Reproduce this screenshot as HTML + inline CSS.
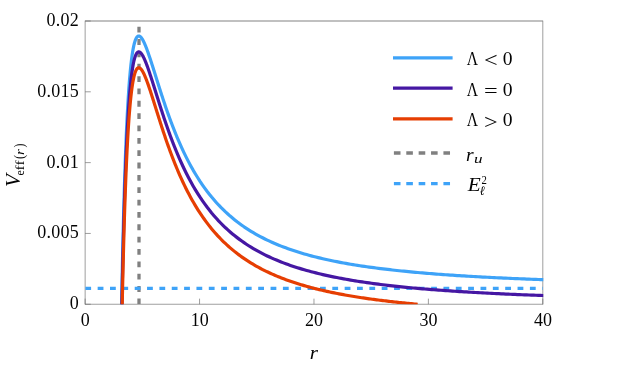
<!DOCTYPE html>
<html><head><meta charset="utf-8"><title>V_eff</title>
<style>
html,body{margin:0;padding:0;background:#fff;}
body{width:628px;height:373px;overflow:hidden;font-family:"Liberation Serif",serif;}
svg{display:block;}
text{font-family:"Liberation Serif",serif;fill:#000;}
</style></head><body>
<svg width="628" height="373" viewBox="0 0 628 373">
<rect x="0" y="0" width="628" height="373" fill="#ffffff"/>
<defs><clipPath id="c"><rect x="85.15" y="21.0" width="458.09999999999997" height="283.25"/></clipPath></defs>
<path d="M85.15 20.7 V304.55 M542.8 20.7 V304.55 M85.15 304.25 H542.8" fill="none" stroke="#6a6a6a" stroke-width="0.65"/><path d="M85.15 21.0 H542.8" fill="none" stroke="#6a6a6a" stroke-width="0.85"/>
<path d="M85.15 304.25 v-5.60 M199.56 304.25 v-5.60 M313.98 304.25 v-5.60 M428.39 304.25 v-5.60 M542.80 304.25 v-5.60 M85.15 304.25 h5.60 M85.15 233.44 h5.60 M85.15 162.62 h5.60 M85.15 91.81 h5.60 M85.15 21.00 h5.60" fill="none" stroke="#6a6a6a" stroke-width="0.65"/>
<g clip-path="url(#c)" fill="none">
<path d="M139.0 304.25 V21.0" stroke="#808080" stroke-width="3.3" stroke-dasharray="5.8 6.55"/>
<path d="M85.3 288.45 H542.8" stroke="#3EA3F8" stroke-width="3.3" stroke-dasharray="5.8 6.55"/>
<path d="M119.71 422.30 L119.97 403.49 L120.23 385.52 L120.50 368.37 L120.76 351.98 L121.02 336.33 L121.28 321.37 L121.54 307.09 L121.80 293.45 L122.06 280.42 L122.32 267.97 L122.58 256.08 L122.85 244.72 L123.11 233.88 L123.37 223.52 L123.63 213.63 L123.89 204.19 L124.15 195.17 L124.41 186.56 L124.67 178.35 L124.94 170.51 L125.20 163.02 L125.46 155.89 L125.72 149.08 L125.98 142.58 L126.24 136.39 L126.50 130.49 L126.76 124.87 L127.02 119.51 L127.29 114.41 L127.55 109.55 L127.81 104.93 L128.07 100.53 L128.33 96.35 L128.59 92.37 L128.85 88.60 L129.11 85.01 L129.37 81.61 L129.64 78.38 L129.90 75.32 L130.16 72.42 L130.42 69.68 L130.68 67.08 L130.94 64.63 L131.20 62.32 L131.46 60.14 L131.72 58.08 L131.99 56.15 L132.25 54.33 L132.51 52.63 L132.77 51.03 L133.03 49.53 L133.29 48.14 L133.55 46.84 L133.81 45.63 L134.07 44.51 L134.34 43.48 L134.60 42.52 L134.86 41.64 L135.12 40.84 L135.38 40.11 L135.64 39.45 L135.90 38.86 L136.16 38.33 L136.42 37.86 L136.69 37.44 L136.95 37.09 L137.21 36.79 L137.47 36.54 L137.73 36.34 L137.99 36.19 L138.25 36.09 L138.51 36.03 L138.77 36.01 L139.04 36.03 L139.30 36.09 L139.56 36.19 L139.82 36.33 L140.08 36.50 L140.34 36.70 L140.60 36.93 L140.86 37.20 L141.13 37.49 L141.39 37.82 L141.65 38.16 L141.91 38.54 L142.17 38.94 L142.43 39.36 L142.69 39.80 L142.95 40.27 L143.21 40.76 L143.48 41.26 L143.74 41.79 L144.00 42.33 L144.26 42.89 L144.52 43.47 L144.78 44.06 L145.04 44.67 L145.30 45.29 L145.56 45.93 L145.83 46.58 L146.09 47.24 L146.35 47.91 L146.61 48.60 L146.87 49.29 L147.13 49.99 L147.39 50.71 L147.65 51.43 L147.91 52.16 L148.18 52.90 L148.44 53.65 L148.70 54.41 L148.96 55.17 L149.22 55.93 L149.48 56.71 L149.74 57.49 L150.00 58.27 L150.26 59.06 L150.53 59.86 L150.79 60.66 L151.05 61.46 L151.31 62.27 L151.57 63.08 L151.83 63.89 L152.09 64.70 L152.35 65.52 L152.61 66.34 L152.88 67.17 L153.14 67.99 L153.40 68.82 L153.66 69.65 L153.92 70.48 L154.18 71.31 L154.44 72.14 L154.70 72.97 L154.97 73.80 L155.23 74.64 L155.49 75.47 L155.75 76.30 L156.01 77.13 L156.27 77.97 L156.53 78.80 L156.79 79.63 L157.05 80.46 L157.32 81.29 L157.58 82.12 L157.84 82.95 L158.10 83.78 L158.36 84.60 L158.62 85.43 L158.88 86.25 L159.14 87.07 L159.40 87.90 L159.67 88.71 L159.93 89.53 L160.19 90.35 L160.45 91.16 L160.71 91.97 L160.97 92.78 L161.23 93.59 L161.49 94.39 L161.75 95.19 L162.02 95.99 L162.28 96.79 L162.54 97.58 L162.80 98.38 L163.06 99.17 L163.32 99.96 L163.58 100.74 L163.84 101.52 L164.10 102.30 L164.37 103.08 L164.63 103.85 L164.89 104.62 L165.15 105.39 L165.41 106.16 L165.67 106.92 L165.93 107.68 L166.19 108.44 L166.45 109.19 L166.72 109.94 L166.98 110.69 L167.24 111.44 L167.50 112.18 L167.76 112.92 L168.02 113.65 L168.28 114.38 L168.54 115.11 L168.80 115.84 L169.07 116.56 L169.33 117.28 L169.59 118.00 L169.85 118.71 L170.11 119.42 L170.37 120.13 L170.63 120.84 L170.89 121.54 L171.16 122.23 L171.42 122.93 L171.68 123.62 L171.94 124.31 L172.20 124.99 L172.46 125.68 L172.72 126.35 L172.98 127.03 L173.24 127.70 L173.51 128.37 L173.77 129.04 L174.03 129.70 L174.29 130.36 L174.55 131.01 L174.81 131.67 L175.07 132.32 L175.33 132.96 L175.59 133.61 L175.86 134.25 L176.12 134.88 L176.38 135.52 L176.64 136.15 L176.90 136.78 L179.22 142.21 L181.53 147.40 L183.85 152.36 L186.17 157.10 L188.48 161.62 L190.80 165.94 L193.11 170.07 L195.43 174.00 L197.75 177.76 L200.06 181.35 L202.38 184.78 L204.70 188.06 L207.01 191.20 L209.33 194.20 L211.64 197.07 L213.96 199.81 L216.28 202.44 L218.59 204.96 L220.91 207.38 L223.23 209.69 L225.54 211.91 L227.86 214.04 L230.17 216.09 L232.49 218.05 L234.81 219.94 L237.12 221.76 L239.44 223.50 L241.76 225.18 L244.07 226.80 L246.39 228.35 L248.70 229.85 L251.02 231.30 L253.34 232.69 L255.65 234.03 L257.97 235.33 L260.29 236.58 L262.60 237.79 L264.92 238.96 L267.23 240.08 L269.55 241.17 L271.87 242.22 L274.18 243.24 L276.50 244.23 L278.82 245.18 L281.13 246.11 L283.45 247.00 L285.76 247.87 L288.08 248.71 L290.40 249.52 L292.71 250.31 L295.03 251.07 L297.35 251.82 L299.66 252.54 L301.98 253.24 L304.30 253.92 L306.61 254.58 L308.93 255.22 L311.24 255.84 L313.56 256.45 L315.88 257.04 L318.19 257.61 L320.51 258.17 L322.83 258.71 L325.14 259.24 L327.46 259.75 L329.77 260.25 L332.09 260.74 L334.41 261.21 L336.72 261.67 L339.04 262.12 L341.36 262.56 L343.67 262.99 L345.99 263.41 L348.30 263.82 L350.62 264.21 L352.94 264.60 L355.25 264.98 L357.57 265.35 L359.89 265.71 L362.20 266.06 L364.52 266.41 L366.83 266.74 L369.15 267.07 L371.47 267.39 L373.78 267.70 L376.10 268.01 L378.42 268.31 L380.73 268.60 L383.05 268.89 L385.36 269.17 L387.68 269.44 L390.00 269.71 L392.31 269.97 L394.63 270.23 L396.95 270.48 L399.26 270.73 L401.58 270.97 L403.89 271.21 L406.21 271.44 L408.53 271.66 L410.84 271.89 L413.16 272.10 L415.48 272.32 L417.79 272.53 L420.11 272.73 L422.43 272.93 L424.74 273.13 L427.06 273.32 L429.37 273.51 L431.69 273.70 L434.01 273.88 L436.32 274.06 L438.64 274.23 L440.96 274.41 L443.27 274.57 L445.59 274.74 L447.90 274.90 L450.22 275.06 L452.54 275.22 L454.85 275.37 L457.17 275.53 L459.49 275.67 L461.80 275.82 L464.12 275.96 L466.43 276.10 L468.75 276.24 L471.07 276.38 L473.38 276.51 L475.70 276.64 L478.02 276.77 L480.33 276.90 L482.65 277.03 L484.96 277.15 L487.28 277.27 L489.60 277.39 L491.91 277.51 L494.23 277.62 L496.55 277.73 L498.86 277.84 L501.18 277.95 L503.49 278.06 L505.81 278.17 L508.13 278.27 L510.44 278.37 L512.76 278.48 L515.08 278.58 L517.39 278.67 L519.71 278.77 L522.02 278.87 L524.34 278.96 L526.66 279.05 L528.97 279.14 L531.29 279.23 L533.61 279.32 L535.92 279.41 L538.24 279.49 L540.55 279.58 L542.87 279.66 L545.19 279.74" stroke="#3EA3F8" stroke-width="3.2" stroke-linejoin="round"/>
<path d="M119.71 438.16 L119.97 419.35 L120.23 401.39 L120.50 384.23 L120.76 367.84 L121.02 352.19 L121.28 337.24 L121.54 322.96 L121.80 309.31 L122.06 296.28 L122.32 283.84 L122.58 271.95 L122.85 260.59 L123.11 249.74 L123.37 239.39 L123.63 229.50 L123.89 220.05 L124.15 211.04 L124.41 202.43 L124.67 194.21 L124.94 186.37 L125.20 178.89 L125.46 171.75 L125.72 164.94 L125.98 158.45 L126.24 152.26 L126.50 146.36 L126.76 140.73 L127.02 135.38 L127.29 130.27 L127.55 125.42 L127.81 120.79 L128.07 116.40 L128.33 112.21 L128.59 108.24 L128.85 104.46 L129.11 100.87 L129.37 97.47 L129.64 94.24 L129.90 91.18 L130.16 88.29 L130.42 85.54 L130.68 82.95 L130.94 80.50 L131.20 78.19 L131.46 76.00 L131.72 73.95 L131.99 72.01 L132.25 70.20 L132.51 68.49 L132.77 66.89 L133.03 65.40 L133.29 64.00 L133.55 62.70 L133.81 61.50 L134.07 60.38 L134.34 59.34 L134.60 58.39 L134.86 57.51 L135.12 56.71 L135.38 55.98 L135.64 55.32 L135.90 54.72 L136.16 54.19 L136.42 53.72 L136.69 53.31 L136.95 52.96 L137.21 52.65 L137.47 52.41 L137.73 52.21 L137.99 52.06 L138.25 51.95 L138.51 51.89 L138.77 51.87 L139.04 51.90 L139.30 51.96 L139.56 52.06 L139.82 52.19 L140.08 52.36 L140.34 52.57 L140.60 52.80 L140.86 53.06 L141.13 53.36 L141.39 53.68 L141.65 54.03 L141.91 54.40 L142.17 54.80 L142.43 55.22 L142.69 55.67 L142.95 56.14 L143.21 56.62 L143.48 57.13 L143.74 57.65 L144.00 58.20 L144.26 58.76 L144.52 59.34 L144.78 59.93 L145.04 60.54 L145.30 61.16 L145.56 61.79 L145.83 62.44 L146.09 63.10 L146.35 63.78 L146.61 64.46 L146.87 65.16 L147.13 65.86 L147.39 66.57 L147.65 67.30 L147.91 68.03 L148.18 68.77 L148.44 69.52 L148.70 70.27 L148.96 71.03 L149.22 71.80 L149.48 72.57 L149.74 73.35 L150.00 74.14 L150.26 74.93 L150.53 75.72 L150.79 76.52 L151.05 77.32 L151.31 78.13 L151.57 78.94 L151.83 79.75 L152.09 80.57 L152.35 81.39 L152.61 82.21 L152.88 83.03 L153.14 83.86 L153.40 84.68 L153.66 85.51 L153.92 86.34 L154.18 87.17 L154.44 88.00 L154.70 88.83 L154.97 89.67 L155.23 90.50 L155.49 91.33 L155.75 92.17 L156.01 93.00 L156.27 93.83 L156.53 94.66 L156.79 95.50 L157.05 96.33 L157.32 97.16 L157.58 97.99 L157.84 98.82 L158.10 99.64 L158.36 100.47 L158.62 101.29 L158.88 102.12 L159.14 102.94 L159.40 103.76 L159.67 104.58 L159.93 105.40 L160.19 106.21 L160.45 107.02 L160.71 107.83 L160.97 108.64 L161.23 109.45 L161.49 110.25 L161.75 111.06 L162.02 111.86 L162.28 112.65 L162.54 113.45 L162.80 114.24 L163.06 115.03 L163.32 115.82 L163.58 116.61 L163.84 117.39 L164.10 118.17 L164.37 118.94 L164.63 119.72 L164.89 120.49 L165.15 121.26 L165.41 122.02 L165.67 122.79 L165.93 123.55 L166.19 124.30 L166.45 125.06 L166.72 125.81 L166.98 126.56 L167.24 127.30 L167.50 128.04 L167.76 128.78 L168.02 129.52 L168.28 130.25 L168.54 130.98 L168.80 131.71 L169.07 132.43 L169.33 133.15 L169.59 133.87 L169.85 134.58 L170.11 135.29 L170.37 136.00 L170.63 136.70 L170.89 137.40 L171.16 138.10 L171.42 138.79 L171.68 139.49 L171.94 140.17 L172.20 140.86 L172.46 141.54 L172.72 142.22 L172.98 142.89 L173.24 143.57 L173.51 144.24 L173.77 144.90 L174.03 145.56 L174.29 146.22 L174.55 146.88 L174.81 147.53 L175.07 148.18 L175.33 148.83 L175.59 149.47 L175.86 150.11 L176.12 150.75 L176.38 151.38 L176.64 152.01 L176.90 152.64 L179.22 158.07 L181.53 163.27 L183.85 168.23 L186.17 172.97 L188.48 177.49 L190.80 181.81 L193.11 185.93 L195.43 189.87 L197.75 193.63 L200.06 197.22 L202.38 200.65 L204.70 203.93 L207.01 207.06 L209.33 210.06 L211.64 212.93 L213.96 215.68 L216.28 218.31 L218.59 220.83 L220.91 223.24 L223.23 225.56 L225.54 227.78 L227.86 229.91 L230.17 231.95 L232.49 233.92 L234.81 235.81 L237.12 237.62 L239.44 239.37 L241.76 241.05 L244.07 242.66 L246.39 244.22 L248.70 245.72 L251.02 247.16 L253.34 248.56 L255.65 249.90 L257.97 251.20 L260.29 252.45 L262.60 253.65 L264.92 254.82 L267.23 255.95 L269.55 257.04 L271.87 258.09 L274.18 259.11 L276.50 260.09 L278.82 261.05 L281.13 261.97 L283.45 262.87 L285.76 263.73 L288.08 264.57 L290.40 265.39 L292.71 266.17 L295.03 266.94 L297.35 267.68 L299.66 268.40 L301.98 269.10 L304.30 269.78 L306.61 270.44 L308.93 271.08 L311.24 271.71 L313.56 272.31 L315.88 272.90 L318.19 273.47 L320.51 274.03 L322.83 274.57 L325.14 275.10 L327.46 275.61 L329.77 276.11 L332.09 276.60 L334.41 277.08 L336.72 277.54 L339.04 277.99 L341.36 278.43 L343.67 278.86 L345.99 279.27 L348.30 279.68 L350.62 280.08 L352.94 280.47 L355.25 280.85 L357.57 281.21 L359.89 281.57 L362.20 281.93 L364.52 282.27 L366.83 282.61 L369.15 282.94 L371.47 283.26 L373.78 283.57 L376.10 283.88 L378.42 284.18 L380.73 284.47 L383.05 284.75 L385.36 285.03 L387.68 285.31 L390.00 285.58 L392.31 285.84 L394.63 286.10 L396.95 286.35 L399.26 286.59 L401.58 286.84 L403.89 287.07 L406.21 287.30 L408.53 287.53 L410.84 287.75 L413.16 287.97 L415.48 288.18 L417.79 288.39 L420.11 288.60 L422.43 288.80 L424.74 288.99 L427.06 289.19 L429.37 289.38 L431.69 289.56 L434.01 289.74 L436.32 289.92 L438.64 290.10 L440.96 290.27 L443.27 290.44 L445.59 290.61 L447.90 290.77 L450.22 290.93 L452.54 291.08 L454.85 291.24 L457.17 291.39 L459.49 291.54 L461.80 291.69 L464.12 291.83 L466.43 291.97 L468.75 292.11 L471.07 292.24 L473.38 292.38 L475.70 292.51 L478.02 292.64 L480.33 292.77 L482.65 292.89 L484.96 293.01 L487.28 293.13 L489.60 293.25 L491.91 293.37 L494.23 293.49 L496.55 293.60 L498.86 293.71 L501.18 293.82 L503.49 293.93 L505.81 294.03 L508.13 294.14 L510.44 294.24 L512.76 294.34 L515.08 294.44 L517.39 294.54 L519.71 294.64 L522.02 294.73 L524.34 294.82 L526.66 294.92 L528.97 295.01 L531.29 295.10 L533.61 295.18 L535.92 295.27 L538.24 295.36 L540.55 295.44 L542.87 295.52 L545.19 295.60" stroke="#4517A3" stroke-width="3.2" stroke-linejoin="round"/>
<path d="M119.71 454.03 L119.97 435.22 L120.23 417.25 L120.50 400.10 L120.76 383.71 L121.02 368.06 L121.28 353.10 L121.54 338.82 L121.80 325.18 L122.06 312.15 L122.32 299.70 L122.58 287.81 L122.85 276.45 L123.11 265.61 L123.37 255.25 L123.63 245.36 L123.89 235.92 L124.15 226.90 L124.41 218.29 L124.67 210.08 L124.94 202.24 L125.20 194.75 L125.46 187.62 L125.72 180.81 L125.98 174.31 L126.24 168.12 L126.50 162.22 L126.76 156.60 L127.02 151.24 L127.29 146.14 L127.55 141.28 L127.81 136.66 L128.07 132.26 L128.33 128.08 L128.59 124.10 L128.85 120.33 L129.11 116.74 L129.37 113.34 L129.64 110.11 L129.90 107.05 L130.16 104.15 L130.42 101.41 L130.68 98.82 L130.94 96.36 L131.20 94.05 L131.46 91.87 L131.72 89.81 L131.99 87.88 L132.25 86.06 L132.51 84.36 L132.77 82.76 L133.03 81.26 L133.29 79.87 L133.55 78.57 L133.81 77.36 L134.07 76.24 L134.34 75.21 L134.60 74.25 L134.86 73.37 L135.12 72.57 L135.38 71.84 L135.64 71.18 L135.90 70.59 L136.16 70.06 L136.42 69.59 L136.69 69.17 L136.95 68.82 L137.21 68.52 L137.47 68.27 L137.73 68.07 L137.99 67.92 L138.25 67.82 L138.51 67.76 L138.77 67.74 L139.04 67.76 L139.30 67.82 L139.56 67.92 L139.82 68.06 L140.08 68.23 L140.34 68.43 L140.60 68.66 L140.86 68.93 L141.13 69.22 L141.39 69.55 L141.65 69.89 L141.91 70.27 L142.17 70.67 L142.43 71.09 L142.69 71.53 L142.95 72.00 L143.21 72.49 L143.48 72.99 L143.74 73.52 L144.00 74.06 L144.26 74.62 L144.52 75.20 L144.78 75.79 L145.04 76.40 L145.30 77.02 L145.56 77.66 L145.83 78.31 L146.09 78.97 L146.35 79.64 L146.61 80.33 L146.87 81.02 L147.13 81.72 L147.39 82.44 L147.65 83.16 L147.91 83.89 L148.18 84.63 L148.44 85.38 L148.70 86.14 L148.96 86.90 L149.22 87.66 L149.48 88.44 L149.74 89.22 L150.00 90.00 L150.26 90.79 L150.53 91.59 L150.79 92.39 L151.05 93.19 L151.31 94.00 L151.57 94.81 L151.83 95.62 L152.09 96.43 L152.35 97.25 L152.61 98.07 L152.88 98.90 L153.14 99.72 L153.40 100.55 L153.66 101.38 L153.92 102.21 L154.18 103.04 L154.44 103.87 L154.70 104.70 L154.97 105.53 L155.23 106.37 L155.49 107.20 L155.75 108.03 L156.01 108.86 L156.27 109.70 L156.53 110.53 L156.79 111.36 L157.05 112.19 L157.32 113.02 L157.58 113.85 L157.84 114.68 L158.10 115.51 L158.36 116.33 L158.62 117.16 L158.88 117.98 L159.14 118.81 L159.40 119.63 L159.67 120.44 L159.93 121.26 L160.19 122.08 L160.45 122.89 L160.71 123.70 L160.97 124.51 L161.23 125.32 L161.49 126.12 L161.75 126.92 L162.02 127.72 L162.28 128.52 L162.54 129.32 L162.80 130.11 L163.06 130.90 L163.32 131.69 L163.58 132.47 L163.84 133.25 L164.10 134.03 L164.37 134.81 L164.63 135.58 L164.89 136.35 L165.15 137.12 L165.41 137.89 L165.67 138.65 L165.93 139.41 L166.19 140.17 L166.45 140.92 L166.72 141.67 L166.98 142.42 L167.24 143.17 L167.50 143.91 L167.76 144.65 L168.02 145.38 L168.28 146.11 L168.54 146.84 L168.80 147.57 L169.07 148.29 L169.33 149.01 L169.59 149.73 L169.85 150.44 L170.11 151.15 L170.37 151.86 L170.63 152.57 L170.89 153.27 L171.16 153.96 L171.42 154.66 L171.68 155.35 L171.94 156.04 L172.20 156.72 L172.46 157.41 L172.72 158.08 L172.98 158.76 L173.24 159.43 L173.51 160.10 L173.77 160.77 L174.03 161.43 L174.29 162.09 L174.55 162.74 L174.81 163.40 L175.07 164.05 L175.33 164.69 L175.59 165.34 L175.86 165.98 L176.12 166.61 L176.38 167.25 L176.64 167.88 L176.90 168.51 L178.41 172.09 L179.93 175.56 L181.44 178.93 L182.96 182.21 L184.47 185.39 L185.99 188.47 L187.50 191.46 L189.01 194.36 L190.53 197.18 L192.04 199.91 L193.56 202.56 L195.07 205.13 L196.58 207.63 L198.10 210.05 L199.61 212.40 L201.13 214.68 L202.64 216.89 L204.16 219.04 L205.67 221.13 L207.18 223.16 L208.70 225.13 L210.21 227.04 L211.73 228.90 L213.24 230.70 L214.76 232.46 L216.27 234.16 L217.78 235.82 L219.30 237.44 L220.81 239.01 L222.33 240.53 L223.84 242.02 L225.35 243.47 L226.87 244.87 L228.38 246.24 L229.90 247.58 L231.41 248.88 L232.93 250.14 L234.44 251.38 L235.95 252.58 L237.47 253.75 L238.98 254.89 L240.50 256.01 L242.01 257.09 L243.53 258.15 L245.04 259.19 L246.55 260.19 L248.07 261.18 L249.58 262.14 L251.10 263.08 L252.61 263.99 L254.12 264.88 L255.64 265.76 L257.15 266.61 L258.67 267.44 L260.18 268.26 L261.70 269.05 L263.21 269.83 L264.72 270.59 L266.24 271.33 L267.75 272.06 L269.27 272.77 L270.78 273.47 L272.30 274.15 L273.81 274.81 L275.32 275.46 L276.84 276.10 L278.35 276.72 L279.87 277.33 L281.38 277.93 L282.89 278.52 L284.41 279.09 L285.92 279.65 L287.44 280.21 L288.95 280.75 L290.47 281.27 L291.98 281.79 L293.49 282.30 L295.01 282.80 L296.52 283.29 L298.04 283.76 L299.55 284.23 L301.07 284.69 L302.58 285.15 L304.09 285.59 L305.61 286.02 L307.12 286.45 L308.64 286.87 L310.15 287.28 L311.66 287.68 L313.18 288.08 L314.69 288.47 L316.21 288.85 L317.72 289.22 L319.24 289.59 L320.75 289.95 L322.26 290.31 L323.78 290.66 L325.29 291.00 L326.81 291.34 L328.32 291.67 L329.84 291.99 L331.35 292.31 L332.86 292.63 L334.38 292.94 L335.89 293.24 L337.41 293.54 L338.92 293.83 L340.43 294.12 L341.95 294.40 L343.46 294.68 L344.98 294.96 L346.49 295.23 L348.01 295.49 L349.52 295.76 L351.03 296.01 L352.55 296.27 L354.06 296.52 L355.58 296.76 L357.09 297.00 L358.61 297.24 L360.12 297.48 L361.63 297.71 L363.15 297.93 L364.66 298.16 L366.18 298.38 L367.69 298.59 L369.20 298.81 L370.72 299.02 L372.23 299.23 L373.75 299.43 L375.26 299.63 L376.78 299.83 L378.29 300.02 L379.80 300.22 L381.32 300.41 L382.83 300.59 L384.35 300.78 L385.86 300.96 L387.38 301.14 L388.89 301.31 L390.40 301.49 L391.92 301.66 L393.43 301.83 L394.95 302.00 L396.46 302.16 L397.97 302.32 L399.49 302.48 L401.00 302.64 L402.52 302.80 L404.03 302.95 L405.55 303.10 L407.06 303.25 L408.57 303.40 L410.09 303.54 L411.60 303.69 L413.12 303.83 L414.63 303.97 L416.15 304.11 L417.66 304.24" stroke="#E63E02" stroke-width="3.2" stroke-linejoin="round"/>
</g>
<g opacity="0.99" style="will-change:transform"><g font-size="18px"><text x="85.25" y="325.8" text-anchor="middle">0</text><text x="199.66" y="325.8" text-anchor="middle">10</text><text x="314.08" y="325.8" text-anchor="middle">20</text><text x="428.49" y="325.8" text-anchor="middle">30</text><text x="542.90" y="325.8" text-anchor="middle">40</text><text x="79.1" y="309.15" text-anchor="end" letter-spacing="0.25">0</text><text x="79.1" y="238.34" text-anchor="end" letter-spacing="0.25">0.005</text><text x="79.1" y="167.53" text-anchor="end" letter-spacing="0.25">0.01</text><text x="79.1" y="96.71" text-anchor="end" letter-spacing="0.25">0.015</text><text x="79.1" y="25.90" text-anchor="end" letter-spacing="0.25">0.02</text></g>
<text transform="translate(309.65 359.00) scale(0.2105 0.1889)" font-size="100px" font-style="italic">r</text>
<g transform="rotate(-90)"><text transform="translate(-187.00 20.18) scale(0.2108 0.2105)" font-size="100px" font-style="italic">V</text><text transform="translate(-175.56 23.82) scale(0.1189 0.1341)" font-size="100px">e</text><text transform="translate(-170.38 23.85) scale(0.1555 0.1328)" font-size="100px">f</text><text transform="translate(-165.58 23.85) scale(0.1555 0.1328)" font-size="100px">f</text><text transform="translate(-159.05 23.63) scale(0.1246 0.1489)" font-size="100px">(</text><text transform="translate(-154.91 23.85) scale(0.1508 0.1326)" font-size="100px" font-style="italic">r</text><text transform="translate(-147.48 23.63) scale(0.1168 0.1489)" font-size="100px">)</text></g>
<text transform="translate(466.75 65.00) scale(0.1560 0.1954)" font-size="100px">Λ</text><text transform="translate(483.99 67.34) scale(0.2428 0.2135)" font-size="100px">&lt;</text><text transform="translate(502.75 65.11) scale(0.1958 0.1956)" font-size="100px">0</text><text transform="translate(466.75 95.50) scale(0.1560 0.1954)" font-size="100px">Λ</text><text transform="translate(483.99 97.06) scale(0.2428 0.1960)" font-size="100px">=</text><text transform="translate(502.75 95.61) scale(0.1958 0.1956)" font-size="100px">0</text><text transform="translate(466.75 126.20) scale(0.1560 0.1954)" font-size="100px">Λ</text><text transform="translate(483.97 128.59) scale(0.2428 0.2135)" font-size="100px">&gt;</text><text transform="translate(502.75 126.31) scale(0.1958 0.1956)" font-size="100px">0</text><text transform="translate(466.10 160.70) scale(0.1963 0.1889)" font-size="100px" font-style="italic">r</text><text transform="translate(473.95 163.25) scale(0.1715 0.1275)" font-size="100px" font-style="italic">u</text><text transform="translate(467.75 191.00) scale(0.2127 0.1940)" font-size="100px" font-style="italic">E</text><text transform="translate(481.53 183.50) scale(0.1073 0.1284)" font-size="100px">2</text><text transform="translate(479.84 195.37) scale(0.1253 0.1303)" font-size="100px" font-style="italic">ℓ</text></g>
<g fill="none" stroke-width="3.2">
<path d="M393 57.8 H452.6" stroke="#3EA3F8"/>
<path d="M393 88.1 H452.6" stroke="#4517A3"/>
<path d="M393 118.9 H452.6" stroke="#E63E02"/>
<path d="M393.9 153 H452.6" stroke="#808080" stroke-width="3.3" stroke-dasharray="6.6 5.78"/>
<path d="M393.9 183.6 H452.6" stroke="#3EA3F8" stroke-width="3.3" stroke-dasharray="6.6 5.78"/>
</g>
</svg>
</body></html>
